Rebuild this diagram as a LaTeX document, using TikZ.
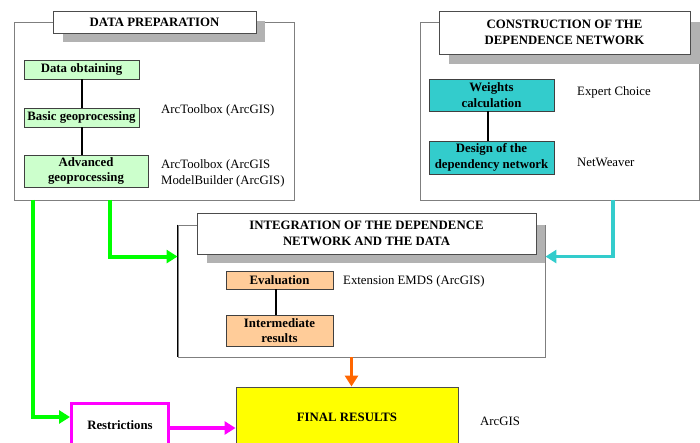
\documentclass[tikz,border=0pt]{standalone}
\usepackage{fontspec}
\setmainfont{Liberation Serif}
\usetikzlibrary{arrows.meta}
\definecolor{gfill}{HTML}{CCFFCC}
\definecolor{cfill}{HTML}{33CCCC}
\definecolor{ofill}{HTML}{FFCC99}
\definecolor{yfill}{HTML}{FFFF00}
\definecolor{garr}{HTML}{00FF00}
\definecolor{carr}{HTML}{33CCCC}
\definecolor{oarr}{HTML}{FF6600}
\definecolor{marr}{HTML}{FF00FF}
\definecolor{shad}{HTML}{B2B2B2}
\definecolor{edge}{HTML}{7F7F7F}
\tikzset{
  outerbox/.style={draw=edge, line width=0.9pt, fill=white, inner sep=0pt},
  shadowbox/.style={fill=shad, draw=none, inner sep=0pt},
  headbox/.style={draw=edge!60!black, line width=0.9pt, fill=white, inner sep=0pt, align=center,
    font=\fontsize{12.8}{15.5}\selectfont\bfseries},
  stepbox/.style={draw=black!75, line width=0.8pt, inner sep=0pt, align=center,
    font=\fontsize{12.8}{15.5}\selectfont\bfseries},
  gbox/.style={stepbox, fill=gfill},
  cbox/.style={stepbox, fill=cfill},
  obox/.style={stepbox, fill=ofill},
  note/.style={anchor=west, inner sep=0pt, align=left, font=\fontsize{12.8}{16}\selectfont},
  link/.style={line width=2pt, black},
  arr/.style={line width=4pt, -{Triangle[length=11pt,width=13pt]}},
}
\begin{document}
\begin{tikzpicture}[x=1pt,y=-1pt]
\useasboundingbox (0,0) rectangle (700,443);
\clip (0,0) rectangle (700,443);
% ---------- Data preparation
\node[outerbox, minimum width=280pt, minimum height=178pt] (dpOuter) at (154,111) {};
\node[shadowbox, minimum width=202pt, minimum height=21pt] (dpShadow) at (164,31.5) {};
\node[headbox, minimum width=203pt, minimum height=22pt] (dpHead) at (154.5,22) {DATA PREPARATION};
\node[gbox, minimum width=115pt, minimum height=19pt] (dob) at (81.5,69.5) {Data obtaining};
\node[gbox, minimum width=115pt, minimum height=19pt] (bgp) at (81.5,117.5) {Basic geoprocessing};
\node[gbox, minimum width=124pt, minimum height=32pt] (agp) at (86,171) {Advanced\\geoprocessing};
\draw[link] (dob) -- (bgp);
\draw[link] (bgp.south) -- (bgp.south |- agp.north);
\node[note] (n1) at (161,110) {ArcToolbox (ArcGIS)};
\node[note] (n2) at (161,173) {ArcToolbox (ArcGIS\\ModelBuilder (ArcGIS)};
% ---------- Construction
\node[outerbox, minimum width=279pt, minimum height=178pt] (cnOuter) at (559.5,111) {};
\node[shadowbox, minimum width=251pt, minimum height=42pt] (cnShadow) at (574.5,43) {};
\node[headbox, minimum width=251pt, minimum height=43pt] (cnHead) at (564.5,32.5) {CONSTRUCTION OF THE\\DEPENDENCE NETWORK};
\node[cbox, minimum width=125pt, minimum height=32pt] (wc) at (491.5,95) {Weights\\calculation};
\node[cbox, minimum width=125pt, minimum height=33pt] (dn) at (491.5,157.5) {Design of the\\dependency network};
\draw[link] ([xshift=-4pt]wc.south) -- ([xshift=-4pt]dn.north);
\node[note] (n3) at (577,92) {Expert Choice};
\node[note] (n4) at (577,162) {NetWeaver};
% ---------- Integration
\node[outerbox, minimum width=367pt, minimum height=132pt] (inOuter) at (361.5,291) {};
\draw[black, line width=0.9pt] (inOuter.north west) -- (inOuter.south west);
\node[shadowbox, minimum width=338pt, minimum height=38pt] (inShadow) at (376,244) {};
\node[headbox, minimum width=339pt, minimum height=41pt] (inHead) at (366.5,233.5) {INTEGRATION OF THE DEPENDENCE\\NETWORK AND THE DATA};
\node[obox, minimum width=107pt, minimum height=18pt] (ev) at (279.5,280) {Evaluation};
\node[obox, minimum width=107pt, minimum height=31pt] (ir) at (279.5,330.5) {Intermediate\\results};
\draw[link] ([xshift=-4pt]ev.south) -- ([xshift=-4pt]ir.north);
\node[note] (n5) at (343,281) {Extension EMDS (ArcGIS)};
% ---------- Final
\node[draw=black!70, line width=0.9pt, fill=yfill, minimum width=222pt, minimum height=60pt,
  font=\fontsize{12.8}{15.5}\selectfont\bfseries, inner sep=0pt] (fin) at (347,417) {FINAL RESULTS};
\node[note] (n6) at (480,421) {ArcGIS};
\node[draw=marr, line width=3pt, fill=white, minimum width=97pt, minimum height=44pt,
  font=\fontsize{12.8}{15.5}\selectfont\bfseries, inner sep=0pt] (res) at (120,425) {Restrictions};
% ---------- Arrows
\coordinate (g1) at (33,200);
\coordinate (g2) at (110,200);
\coordinate (c1) at (613,200);
\draw[arr, garr] (g1) |- ([yshift=8pt]res.west);
\draw[arr, garr] (g2) |- ([yshift=-32pt]inOuter.north west);
\draw[arr, carr, line width=3.5pt] (c1) |- ([yshift=-32pt]inOuter.north east);
\draw[arr, oarr, line width=3pt] ([xshift=-10pt]inOuter.south) -- ([xshift=-10pt]inOuter.south |- fin.north);
\draw[arr, marr, line width=3.5pt] ([yshift=-3pt]res.east) -- ([yshift=-3pt]res.east -| fin.west);
\end{tikzpicture}
\end{document}
